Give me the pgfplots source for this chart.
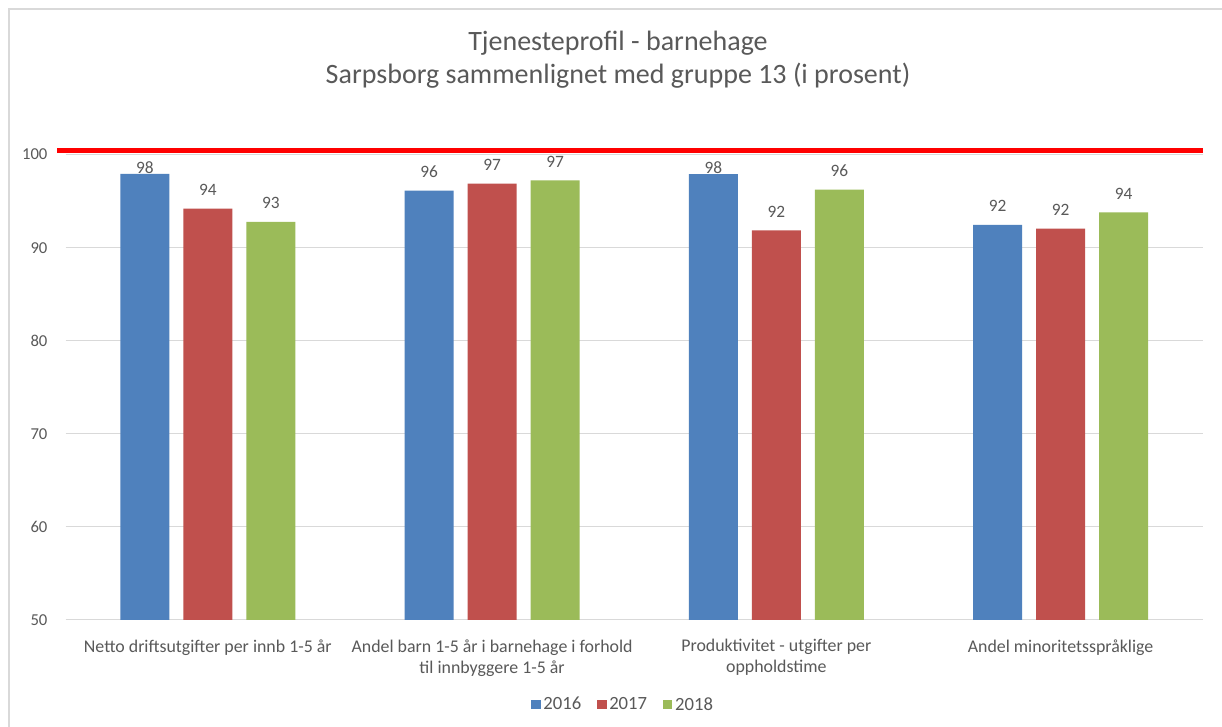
\documentclass[border=0pt]{standalone}
\usepackage{pgfplots}
\pgfplotsset{compat=1.18}
\usepackage{pgfplotstable}
\usepackage{fontspec}
\setmainfont{Carlito}

\definecolor{c16}{HTML}{4F81BD}
\definecolor{c17}{HTML}{C0504D}
\definecolor{c18}{HTML}{9BBB59}
\definecolor{txt}{HTML}{595959}
\definecolor{grd}{HTML}{D9D9D9}

% verdier lest av grafen (prosent)
\pgfplotstableread{
x y2016 y2017 y2018
0 97.92 94.19 92.76
1 96.12 96.88 97.24
2 97.89 91.87 96.23
3 92.44 92.04 93.80
}\barnehage

\pgfplotsset{
  databar/.style={
    ybar, bar width=36.75pt, draw=none, point meta=y,
    bar shift=#1,
    nodes near coords={\pgfmathprintnumber[fixed,precision=0]{\pgfplotspointmeta}},
    visualization depends on={y \as \rawy},
    every node near coord/.append style={anchor=south, inner sep=0pt, text=txt,
      font=\fontsize{13}{15}\selectfont, xshift=#1,
      yshift={ifthenelse(\rawy>97.5,0,9.75)*1pt}},
  },
}

\begin{document}
\begin{tikzpicture}[x=0.75pt,y=0.75pt]
\useasboundingbox (0,0) rectangle (1222,727);
\fill[white] (0,0) rectangle (1222,727);
\draw[grd, line width=1.5pt] (9,-20) rectangle (1240,718);

\node[align=center, text=txt, font=\fontsize{21}{24.5}\selectfont] at (618,667)
  {Tjenesteprofil - barnehage\\Sarpsborg sammenlignet med gruppe 13 (i prosent)};

\begin{axis}[
  at={(49.275pt,80.25pt)}, anchor=south west,
  scale only axis, width=852.75pt, height=349.05pt,
  xmin=-0.5, xmax=3.5, ymin=50, ymax=100,
  clip=false,
  /pgf/number format/assume math mode=true,
  xtick={0,1,2,3},
  xticklabels={Netto driftsutgifter per innb 1-5 år,
    Andel barn 1-5 år i barnehage i forhold\\til innbyggere 1-5 år,
    Produktivitet - utgifter per\\oppholdstime,
    Andel minoritetsspråklige},
  ytick={50,60,...,100},
  major tick length=0pt,
  axis line style={draw=none},
  ymajorgrids, grid style={grd, line width=0.75pt},
  tick label style={text=txt},
  yticklabel style={font=\fontsize{12.5}{15}\selectfont, inner sep=0pt, xshift=-13.5pt},
  xticklabel style={font=\fontsize{13.4}{15.75}\selectfont, align=center, inner sep=0pt,
    anchor=north, yshift=-14.5pt},
  legend style={at={(0.5,0)}, anchor=center, xshift=-8pt, yshift=-63.5pt,
    draw=none, fill=none, legend columns=-1, text=txt,
    font=\fontsize{14}{16}\selectfont,
    /tikz/every even column/.append style={column sep=10pt}},
  legend image code/.code={\fill[#1] (0pt,-3.4pt) rectangle (7pt,3.4pt);},
]
\addplot[databar=-47.25pt, fill=c16] table[x=x, y=y2016] {\barnehage};
\addplot[databar=0pt, fill=c17] table[x=x, y=y2017] {\barnehage};
\addplot[databar=47.25pt, fill=c18] table[x=x, y=y2018] {\barnehage};
% rød referanselinje ved 100
\addplot[red, line width=3.75pt, forget plot] coordinates {(-0.53,100.42) (3.5,100.42)};
\legend{2016,2017,2018}
\end{axis}
\end{tikzpicture}
\end{document}
